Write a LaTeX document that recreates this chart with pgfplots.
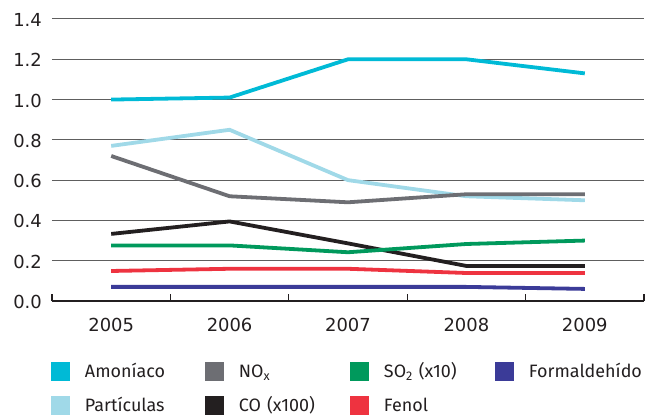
\documentclass[border=0pt]{standalone}
\usepackage{fontspec}
\setmainfont{Fira Sans}
\newfontfamily\tickfont{DejaVu Sans}
\usepackage{pgfplots}
\usepackage{pgfplotstable}
\pgfplotsset{compat=1.18}

\definecolor{amon}{HTML}{00BAD6}
\definecolor{part}{HTML}{A0D9E8}
\definecolor{nox}{HTML}{6D6E73}
\definecolor{co}{HTML}{231F20}
\definecolor{so}{HTML}{00995C}
\definecolor{fenol}{HTML}{EE3340}
\definecolor{form}{HTML}{3B3B98}
\definecolor{txt}{HTML}{231F20}
\definecolor{gridc}{HTML}{5E5E5E}

% year index (1 = 2005), one column per pollutant
\pgfplotstableread{
x amon part nox  co    so2   fenol form
1 1.00 0.77 0.72 0.333 0.276 0.149 0.070
2 1.01 0.85 0.52 0.395 0.276 0.160 0.070
3 1.20 0.60 0.49 0.286 0.242 0.160 0.070
4 1.20 0.52 0.53 0.174 0.283 0.139 0.070
5 1.13 0.50 0.53 0.174 0.300 0.139 0.060
}\emisiones

\begin{document}
\begin{tikzpicture}
\useasboundingbox (0,0) rectangle (646bp,416bp);
\begin{axis}[
  at={(52bp,115bp)}, anchor=south west,
  scale only axis, width=592bp, height=282bp,
  xmin=0.5, xmax=5.5, ymin=0, ymax=1.4,
  axis lines*=left,
  y axis line style={draw=none},
  x axis line style={draw=txt, line width=1.2bp},
  xtick={1,2,3,4,5},
  xticklabels={2005,2006,2007,2008,2009},
  major x tick style={draw=none},
  minor xtick={0.5,1.5,2.5,3.5,4.5,5.5},
  minor x tick style={draw=txt, line width=1.1bp},
  xtick align=inside,
  minor tick length=7bp,
  ytick={0,0.2,0.4,0.6,0.8,1.0,1.2,1.4},
  yticklabels={0.0,0.2,0.4,0.6,0.8,1.0,1.2,1.4},
  ytick style={draw=none},
  ymajorgrids,
  grid style={draw=gridc, line width=1bp},
  tick label style={font=\tickfont\fontsize{18}{20}\selectfont, text=txt},
  yticklabel style={anchor=east, inner sep=0pt, xshift=-10bp, yshift=-1bp},
  xticklabel style={anchor=center, inner sep=0pt, yshift=-24bp},
  every axis plot/.append style={line width=3.8bp, line cap=butt},
  legend columns=4,
  legend cell align=left,
  legend image code/.code={\fill[#1,draw=none] (0bp,-9.5bp) rectangle (19bp,9.5bp);},
  legend style={
    at={(-0.0017,-0.2164)}, anchor=north west,
    draw=none, fill=none, inner sep=0pt, outer sep=0pt,
    font=\fontsize{18}{21}\selectfont, text=txt,
    row sep=15bp,
    nodes={inner sep=0pt, text height=12.5bp, text depth=0pt},
    /tikz/every odd column/.append style={column sep=15bp},
    /tikz/column 2/.style={text width=120bp, align=left},
    /tikz/column 4/.style={text width=111bp, align=left},
    /tikz/column 6/.style={text width=111bp, align=left},
  },
]
% drawing order: later series sit on top where lines cross
\addplot[amon, forget plot] table[x=x, y=amon] {\emisiones};
\addplot[part, forget plot] table[x=x, y=part] {\emisiones};
\addplot[nox, forget plot] table[x=x, y=nox] {\emisiones};
\addplot[co, forget plot] table[x=x, y=co] {\emisiones};
\addplot[so, forget plot] table[x=x, y=so2] {\emisiones};
\addplot[fenol, forget plot] table[x=x, y=fenol] {\emisiones};
\addplot[form, forget plot] table[x=x, y=form] {\emisiones};

% legend, filled row by row
\addlegendimage{amon}\addlegendentry{Amoníaco}
\addlegendimage{nox}\addlegendentry{NO\textsubscript{x}}
\addlegendimage{so}\addlegendentry{SO\textsubscript{2} (x10)}
\addlegendimage{form}\addlegendentry{Formaldehído}
\addlegendimage{part}\addlegendentry{Partículas}
\addlegendimage{co}\addlegendentry{CO (x100)}
\addlegendimage{fenol}\addlegendentry{Fenol}
\end{axis}
\end{tikzpicture}
\end{document}
